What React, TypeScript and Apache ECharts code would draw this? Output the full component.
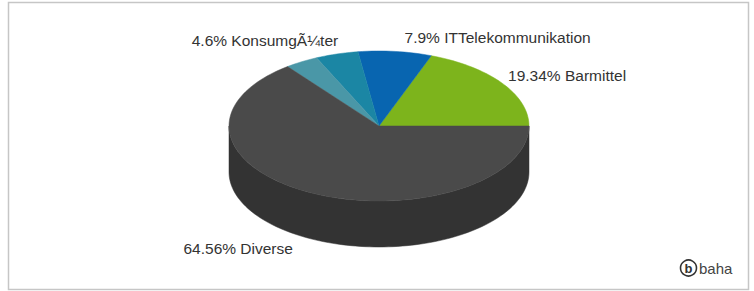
import React, { useEffect, useRef } from "react";
import * as echarts from "echarts";

const categories = ["Barmittel", "ITTelekommunikation", "KonsumgÃ¼ter", "Sonstige", "Diverse"];
const values = [19.34, 7.9, 4.6, 3.6, 64.56];
const showLabel = [true, true, true, false, true];
const topColors = ["#7db41c", "#0865b0", "#1b86a4", "#4a97a7", "#4a4a4a"];
const sideColors = ["#5e8a12", "#064c86", "#146680", "#387380", "#333333"];

export default function App() {
  const ref = useRef<HTMLDivElement>(null);
  useEffect(() => {
    document.body.style.margin = "0";
    const chart = echarts.init(ref.current!, null, { renderer: "svg" });
    const cx = 379, cy = 126, rx = 150, ry = 75, depth = 46;
    const total = values.reduce((a, b) => a + b, 0);
    const starts: number[] = [];
    const ends: number[] = [];
    let acc = 0;
    values.forEach((v) => {
      starts.push((acc / total) * Math.PI * 2);
      acc += v;
      ends.push((acc / total) * Math.PI * 2);
    });
    const pt = (t: number, dy = 0) => [cx + rx * Math.cos(t), cy - ry * Math.sin(t) + dy];
    const arcPts = (a: number, b: number, dy = 0) => {
      const n = Math.max(2, Math.ceil(((b - a) / (Math.PI * 2)) * 200));
      const out: number[][] = [];
      for (let k = 0; k <= n; k++) out.push(pt(a + ((b - a) * k) / n, dy));
      return out;
    };
    const font = "Liberation Sans, Arial, sans-serif";
    chart.setOption({
      animation: false,
      graphic: [
        {
          type: "rect",
          shape: { x: 8.5, y: 2.5, width: 740, height: 287 },
          style: { fill: "#fff", stroke: "#c6c6c6", lineWidth: 1.5 },
          z: -10,
        },
        {
          type: "circle",
          shape: { cx: 688.5, cy: 268, r: 8 },
          style: { fill: "none", stroke: "#333", lineWidth: 1.6 },
        },
        {
          type: "text",
          x: 688.5,
          y: 268,
          style: { text: "b", fill: "#333", font: `bold 13px ${font}`, align: "center", verticalAlign: "middle" },
        },
        {
          type: "text",
          x: 699,
          y: 268,
          style: { text: "baha", fill: "#444", font: `15px ${font}`, align: "left", verticalAlign: "middle" },
        },
      ],
      series: [
        {
          type: "custom",
          coordinateSystem: "none",
          z: 1,
          data: values,
          renderItem: (params: any) => {
            const i = params.dataIndex;
            const s = Math.max(starts[i], Math.PI);
            const e = Math.min(ends[i], Math.PI * 2);
            if (e <= s) return { type: "group", children: [] };
            const top = arcPts(s, e);
            const bottom = arcPts(s, e, depth).reverse();
            return {
              type: "polygon",
              shape: { points: top.concat(bottom) },
              style: { fill: sideColors[i], stroke: sideColors[i], lineWidth: 0.5 },
            };
          },
        },
        {
          type: "custom",
          coordinateSystem: "none",
          z: 2,
          data: values,
          renderItem: (params: any) => {
            const i = params.dataIndex;
            const pts = [[cx, cy]].concat(arcPts(starts[i], ends[i]));
            const children: any[] = [
              {
                type: "polygon",
                shape: { points: pts },
                style: { fill: topColors[i], stroke: topColors[i], lineWidth: 0.5 },
              },
            ];
            if (showLabel[i]) {
              const mid = (starts[i] + ends[i]) / 2;
              const c = Math.cos(mid), sn = Math.sin(mid);
              let lx: number, ly: number;
              if (sn >= 0) {
                lx = cx + (rx - 5) * c + (c >= 0 ? 10 : 0);
                ly = cy - (ry + 14) * sn;
              } else {
                lx = cx + (rx + 45) * c;
                ly = cy - (ry + 10) * sn + depth;
              }
              children.push({
                type: "text",
                x: lx,
                y: ly,
                style: {
                  text: `${values[i]}% ${categories[i]}`,
                  fill: "#333",
                  font: `15.5px ${font}`,
                  align: c >= 0 ? "left" : "right",
                  verticalAlign: "middle",
                },
              });
            }
            return { type: "group", children };
          },
        },
      ],
    });
    return () => chart.dispose();
  }, []);
  return <div ref={ref} style={{ width: 754, height: 291 }} />;
}
